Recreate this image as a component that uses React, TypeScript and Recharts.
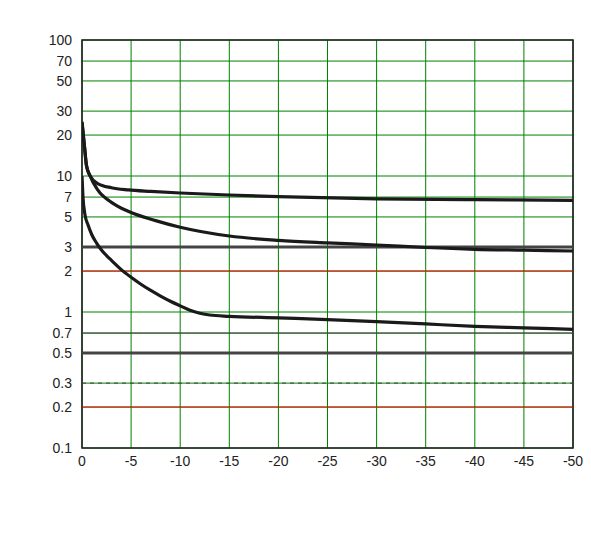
import React from 'react';
import {
  LineChart,
  Line,
  XAxis,
  YAxis,
  CartesianGrid,
  ReferenceArea,
  ReferenceLine,
} from 'recharts';

const cissVds = [0, -0.27, -0.45, -0.8, -1.6, -3, -4.7, -7, -10, -15, -20, -30, -40, -50];
const cissPf = [25, 16, 12, 10.1, 8.8, 8.2, 7.9, 7.7, 7.5, 7.25, 7.05, 6.8, 6.7, 6.62];
const cossVds = [0, -0.27, -0.45, -0.8, -1.6, -3, -4.7, -7.5, -10, -15, -20, -25, -30, -35, -40, -45, -50];
const cossPf = [25, 16, 12, 10.1, 7.9, 6.4, 5.5, 4.7, 4.2, 3.62, 3.36, 3.22, 3.11, 2.98, 2.89, 2.85, 2.81];
const crssVds = [0, -0.1, -0.3, -0.6, -1, -1.5, -2, -2.5, -3, -4, -5, -6, -7, -8, -9, -10, -11, -12, -13, -15, -20, -25, -30, -35, -40, -45, -50];
const crssPf = [10, 7, 5.2, 4.4, 3.7, 3.2, 2.85, 2.6, 2.4, 2.05, 1.8, 1.6, 1.44, 1.31, 1.2, 1.11, 1.03, 0.98, 0.95, 0.93, 0.905, 0.88, 0.85, 0.817, 0.785, 0.765, 0.746];

const xTicks = [0, -5, -10, -15, -20, -25, -30, -35, -40, -45, -50];
const yTicks = [0.1, 0.2, 0.3, 0.5, 0.7, 1, 2, 3, 5, 7, 10, 20, 30, 50, 70, 100];
const SANS = '"Liberation Sans", Arial, sans-serif';
const tickStyle = { fontSize: 14, fill: '#222', fontFamily: SANS };
const toPoints = (vs: number[], cs: number[]) => vs.map((v, i) => ({ v, c: cs[i] }));

export default function App() {
  const series = [toPoints(cissVds, cissPf), toPoints(cossVds, cossPf), toPoints(crssVds, crssPf)];
  return (
    <div style={{ position: 'absolute', left: 0, top: 0, width: 591, height: 533, overflow: 'hidden', background: '#fff' }}>
      <div style={{ position: 'absolute', left: 0, top: 0 }}>
        <LineChart width={591} height={533} margin={{ top: 40, right: 18, left: 0, bottom: 0 }}>
          <CartesianGrid stroke="green" strokeWidth={1} />
          <XAxis type="number" dataKey="v" domain={[-50, 0]} reversed allowDataOverflow ticks={xTicks} interval={0}
            tick={tickStyle} tickLine={false} axisLine={false} tickSize={0} tickMargin={8} height={85} />
          <YAxis type="number" scale="log" domain={[0.1, 100]} allowDataOverflow ticks={yTicks} interval={0}
            tick={tickStyle} tickLine={false} axisLine={false} tickSize={0} tickMargin={10} width={82} />
          <ReferenceLine y={0.2} stroke="red" />
          <ReferenceLine y={0.3} stroke="#444" strokeDasharray="4 4" />
          <ReferenceLine y={0.5} stroke="#444" strokeWidth={3} />
          <ReferenceLine y={0.7} stroke="#444" />
          <Line data={[{ v: 0, c: 2 }, { v: -50, c: 2 }]} dataKey="c" stroke="red" dot={false} isAnimationActive={false} />
          <Line data={[{ v: 0, c: 3 }, { v: -50, c: 3 }]} dataKey="c" stroke="#444" strokeWidth={3} dot={false} isAnimationActive={false} />
          <ReferenceArea x1={-50} x2={0} y1={0.1} y2={100} fill="none" stroke="#222" strokeWidth={1.6} />
          {series.map((d, i) => (
            <Line key={i} data={d} dataKey="c" type="monotone" stroke="#1a1a1a" strokeWidth={3.2} dot={false} isAnimationActive={false} />
          ))}
        </LineChart>
      </div>
    </div>
  );
}
